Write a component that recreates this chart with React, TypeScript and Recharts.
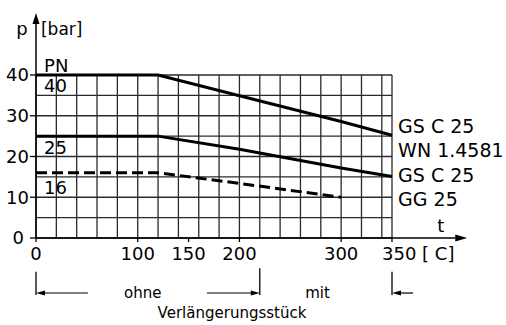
import { LineChart, Line, XAxis, YAxis, ReferenceLine, ReferenceDot } from "recharts";

// pressure [bar] vs temperature [C]
const tempPN40 = [0, 120, 200, 300, 350];
const barPN40 = [40, 40, 34.9, 28.6, 25.2];
const tempPN25 = [0, 120, 200, 300, 350];
const barPN25 = [25, 25, 21.8, 17.2, 15.1];
const tempPN16 = [0, 120, 200, 300];
const barPN16 = [16, 16, 13.4, 10];

const xTicks = [0, 100, 150, 200, 300, 350];
const yTicks = [0, 10, 20, 30, 40];
const gridX = [0, 20, 40, 60, 80, 100, 120, 140, 160, 180, 200, 220, 240, 260, 280, 300, 320, 340, 350];
const gridY = [0, 5, 10, 15, 20, 25, 30, 35, 40];

const pn40 = tempPN40.map((t, i) => ({ t, p: barPN40[i] }));
const pn25 = tempPN25.map((t, i) => ({ t, p: barPN25[i] }));
const pn16 = tempPN16.map((t, i) => ({ t, p: barPN16[i] }));

// text placed in data units (baseline)
const notes = [
  { x: 7.9, y: 40.7, text: "PN", anchor: "start", size: 18 },
  { x: 7.9, y: 35.8, text: "40", anchor: "start", size: 18 },
  { x: 7.9, y: 20.6, text: "25", anchor: "start", size: 18 },
  { x: 7.9, y: 10.8, text: "16", anchor: "start", size: 18 },
  { x: 356, y: 25.8, text: "GS C 25", anchor: "start", size: 19 },
  { x: 356, y: 19.9, text: "WN 1.4581", anchor: "start", size: 19 },
  { x: 356, y: 13.7, text: "GS C 25", anchor: "start", size: 19 },
  { x: 356, y: 7.85, text: "GG 25", anchor: "start", size: 19 },
  { x: 398, y: 1.5, text: "t", anchor: "middle", size: 18 },
  { x: -19.5, y: 49.8, text: "p", anchor: "start", size: 18 },
  { x: 4.9, y: 49.8, text: "[bar]", anchor: "start", size: 17 },
  { x: 105, y: -14.7, text: "ohne", anchor: "middle", size: 15 },
  { x: 276.8, y: -14.7, text: "mit", anchor: "middle", size: 15 },
  { x: 192.7, y: -19.6, text: "Verlängerungsstück", anchor: "middle", size: 15 },
];

// bracket lines under the axis
const bars = [
  { x: 0, from: -8.3, to: -14 },
  { x: 220, from: -7.4, to: -14 },
  { x: 350, from: -8.3, to: -14 },
];

// arrows: from -> to (head at "to")
const arrows = [
  { x1: 0, y1: 40, x2: 0, y2: 55.2, head: 11, w: 3.5, sw: 1.5 },
  { x1: 350, y1: 0, x2: 424, y2: 0, head: 12, w: 3.5, sw: 1.5 },
  { x1: 51, y1: -13.5, x2: 0, y2: -13.5, head: 9, w: 2.5, sw: 1.2 },
  { x1: 168, y1: -13.5, x2: 220, y2: -13.5, head: 9, w: 2.5, sw: 1.2 },
  { x1: 370.7, y1: -13.5, x2: 350, y2: -13.5, head: 9, w: 2.5, sw: 1.2 },
];

const FONT = "DejaVu Sans";

function arrowShape(head: number, w: number, sw: number) {
  return (props: any) => {
    const { x1, y1, x2, y2 } = props;
    const dx = x2 - x1;
    const dy = y2 - y1;
    const len = Math.sqrt(dx * dx + dy * dy) || 1;
    const ux = dx / len;
    const uy = dy / len;
    const bx = x2 - ux * head;
    const by = y2 - uy * head;
    const pts = `${x2},${y2} ${bx - uy * w},${by + ux * w} ${bx + uy * w},${by - ux * w}`;
    return (
      <g>
        <line x1={x1} y1={y1} x2={bx} y2={by} stroke="#000" strokeWidth={sw} />
        <polygon points={pts} fill="#000" />
      </g>
    );
  };
}

function XTick(props: any) {
  const { x, y, payload } = props;
  if (payload.value === 350) {
    return (
      <text x={x - 10} y={y} dy="0.71em" textAnchor="start" fontSize={18} fontFamily={FONT} fill="#000">
        350 [ C]
      </text>
    );
  }
  return (
    <text x={x} y={y} dy="0.71em" textAnchor="middle" fontSize={18} fontFamily={FONT} fill="#000">
      {payload.value}
    </text>
  );
}

function YTick(props: any) {
  const { x, y, payload } = props;
  const shift = payload.value === 0 ? -5 : 0;
  return (
    <text x={x + shift} y={y} dy="0.36em" textAnchor="end" fontSize={18} fontFamily={FONT} fill="#000">
      {payload.value}
    </text>
  );
}

export default function App() {
  return (
    <div style={{ position: "absolute", left: 0, top: 0, background: "#fff" }}>
      <LineChart
        width={506}
        height={325}
        margin={{ top: 75, right: 114, bottom: 57, left: 0 }}
        style={{ fontFamily: FONT }}
      >
        <XAxis
          dataKey="t"
          type="number"
          domain={[0, 350]}
          ticks={xTicks}
          height={30}
          tickSize={4}
          tickMargin={5}
          axisLine={{ stroke: "#000", strokeWidth: 1.5 }}
          tickLine={{ stroke: "#000", strokeWidth: 1.3 }}
          tick={<XTick />}
          allowDuplicatedCategory={false}
        />
        <YAxis
          type="number"
          domain={[0, 40]}
          ticks={yTicks}
          width={36}
          tickSize={6}
          tickMargin={1}
          axisLine={{ stroke: "#000", strokeWidth: 1.5 }}
          tickLine={{ stroke: "#000", strokeWidth: 1.3 }}
          tick={<YTick />}
        />
        {gridX.map((v) => (
          <ReferenceLine key={`gx${v}`} x={v} stroke="#2a2a2a" strokeWidth={1.3} />
        ))}
        {gridY.map((v) => (
          <ReferenceLine key={`gy${v}`} y={v} stroke="#2a2a2a" strokeWidth={1.3} />
        ))}
        <Line data={pn40} dataKey="p" type="linear" stroke="#000" strokeWidth={3} dot={false} isAnimationActive={false} />
        <Line data={pn25} dataKey="p" type="linear" stroke="#000" strokeWidth={3} dot={false} isAnimationActive={false} />
        <Line
          data={pn16}
          dataKey="p"
          type="linear"
          stroke="#000"
          strokeWidth={3}
          strokeDasharray="11 5"
          dot={false}
          isAnimationActive={false}
        />
        {bars.map((b) => (
          <ReferenceLine
            key={`b${b.x}`}
            segment={[{ x: b.x, y: b.from }, { x: b.x, y: b.to }]}
            ifOverflow="visible"
            stroke="#000"
            strokeWidth={1.3}
          />
        ))}
        {arrows.map((a, i) => (
          <ReferenceLine
            key={`a${i}`}
            segment={[{ x: a.x1, y: a.y1 }, { x: a.x2, y: a.y2 }]}
            ifOverflow="visible"
            shape={arrowShape(a.head, a.w, a.sw)}
          />
        ))}
        {notes.map((n, i) => (
          <ReferenceDot
            key={`n${i}`}
            x={n.x}
            y={n.y}
            r={0}
            ifOverflow="visible"
            shape={(p: any) => (
              <text x={p.cx} y={p.cy} textAnchor={n.anchor} fontSize={n.size} fontFamily={FONT} fill="#000">
                {n.text}
              </text>
            )}
          />
        ))}
      </LineChart>
    </div>
  );
}
